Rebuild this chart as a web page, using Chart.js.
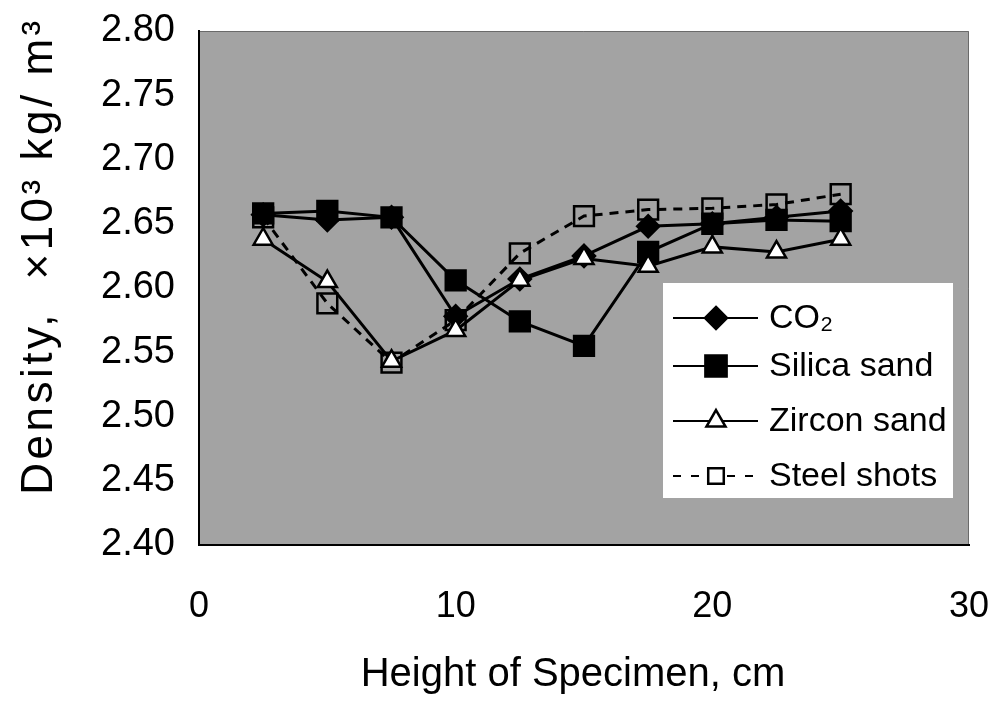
<!DOCTYPE html>
<html><head><meta charset="utf-8">
<script src="https://cdn.jsdelivr.net/npm/chart.js@4.4.0/dist/chart.umd.min.js"></script>
<style>html,body{margin:0;padding:0;background:#fff;}canvas{display:block}</style>
</head><body>
<canvas id="c" width="994" height="706"></canvas>
<script>
const heights = [2.5, 5, 7.5, 10, 12.5, 15, 17.5, 20, 22.5, 25];
const co2    = [2.657, 2.653, 2.655, 2.578, 2.607, 2.625, 2.648, 2.650, 2.655, 2.660];
const silica = [2.658, 2.660, 2.655, 2.606, 2.574, 2.555, 2.628, 2.650, 2.653, 2.652];
const zircon = [2.638, 2.605, 2.543, 2.567, 2.606, 2.623, 2.617, 2.632, 2.628, 2.638];
const steel  = [2.655, 2.588, 2.542, 2.575, 2.627, 2.656, 2.661, 2.662, 2.665, 2.673];
const seriesNames = ['CO\u2082', 'Silica sand', 'Zircon sand', 'Steel shots'];
const yTicks = [2.40, 2.45, 2.50, 2.55, 2.60, 2.65, 2.70, 2.75, 2.80];
const xTicks = [0, 10, 20, 30];
const xTitle = 'Height of Specimen, cm';
const yTitle = 'Density,  \u00d710\u00b3 kg/ m\u00b3';

const pts = arr => heights.map((h, i) => ({x: h, y: arr[i]}));

const styles = [
  {pointStyle: 'rectRot', radius: 11, bg: '#000', dash: []},
  {pointStyle: 'rect', radius: 14, bg: '#000', dash: []},
  {pointStyle: 'triangle', radius: 11, bg: '#fff', dash: []},
  {pointStyle: 'rect', radius: 14, bg: 'rgba(0,0,0,0)', dash: [9, 7]}
];
const seriesData = [co2, silica, zircon, steel];
const orders = [2, 1, 0, 3];

const datasets = seriesData.map((arr, i) => ({
  label: seriesNames[i],
  data: pts(arr),
  borderColor: '#000',
  borderWidth: 3,
  borderDash: styles[i].dash,
  pointStyle: styles[i].pointStyle,
  pointRadius: styles[i].radius,
  pointBackgroundColor: styles[i].bg,
  pointBorderColor: '#000',
  pointBorderWidth: 2.5,
  tension: 0,
  fill: false,
  order: orders[i]
}));

const FONT = '"Liberation Sans", Arial, sans-serif';

const bgPlugin = {
  id: 'bg',
  beforeDraw(chart) {
    const {ctx, chartArea: a} = chart;
    ctx.save();
    ctx.fillStyle = '#fff';
    ctx.fillRect(0, 0, chart.width, chart.height);
    ctx.fillStyle = '#a3a3a3';
    ctx.fillRect(a.left, a.top, a.right - a.left, a.bottom - a.top);
    ctx.strokeStyle = '#6a6a6a';
    ctx.lineWidth = 1;
    ctx.beginPath();
    ctx.moveTo(a.left, a.top + 0.5); ctx.lineTo(a.right - 0.5, a.top + 0.5); ctx.lineTo(a.right - 0.5, a.bottom);
    ctx.stroke();
    ctx.restore();
  }
};

function drawMarker(ctx, style, r, x, y, bg) {
  ctx.beginPath();
  if (style === 'rectRot') {
    ctx.moveTo(x, y - r); ctx.lineTo(x + r, y); ctx.lineTo(x, y + r); ctx.lineTo(x - r, y); ctx.closePath();
  } else if (style === 'rect') {
    const s = r * Math.SQRT1_2;
    ctx.rect(x - s, y - s, 2 * s, 2 * s);
  } else if (style === 'triangle') {
    const h = r * Math.sin(Math.PI / 3);
    ctx.moveTo(x, y - r); ctx.lineTo(x + h, y + r * 0.5); ctx.lineTo(x - h, y + r * 0.5); ctx.closePath();
  }
  ctx.fillStyle = bg;
  ctx.fill();
  ctx.lineWidth = 2.5;
  ctx.strokeStyle = '#000';
  ctx.setLineDash([]);
  ctx.stroke();
}

const legendPlugin = {
  id: 'boxLegend',
  afterDatasetsDraw(chart) {
    const ctx = chart.ctx;
    ctx.save();
    ctx.fillStyle = '#fff';
    ctx.fillRect(663, 283, 290, 215);
    const rows = [318, 366, 421, 476];
    seriesNames.forEach((name, i) => {
      const y = rows[i];
      ctx.strokeStyle = '#000';
      ctx.lineWidth = 2;
      ctx.setLineDash(styles[i].dash.length ? [8, 10] : []);
      ctx.beginPath();
      ctx.moveTo(673, y); ctx.lineTo(758, y);
      ctx.stroke();
      drawMarker(ctx, styles[i].pointStyle, i === 1 ? 15 : 11, 716, y, styles[i].bg === 'rgba(0,0,0,0)' ? '#fff' : styles[i].bg);
      ctx.fillStyle = '#000';
      ctx.font = '34px ' + FONT;
      ctx.textBaseline = 'middle';
      ctx.textAlign = 'left';
      ctx.fillText(name, 769, y + 1);
    });
    ctx.restore();
  }
};

const titlePlugin = {
  id: 'titles',
  afterDraw(chart) {
    const ctx = chart.ctx;
    ctx.save();
    ctx.fillStyle = '#000';
    ctx.textBaseline = 'middle';
    ctx.textAlign = 'center';
    ctx.font = '40px ' + FONT;
    ctx.fillText(xTitle, 573, 675);
    ctx.translate(40, 256);
    ctx.rotate(-Math.PI / 2);
    ctx.font = '44px ' + FONT;
    ctx.letterSpacing = '3.5px';
    ctx.fillText(yTitle, 0, 0);
    ctx.restore();
  }
};

new Chart(document.getElementById('c'), {
  type: 'line',
  data: {datasets},
  plugins: [bgPlugin, legendPlugin, titlePlugin],
  options: {
    responsive: false,
    animation: false,
    devicePixelRatio: 1,
    layout: {padding: {top: 31, right: 25, left: 0, bottom: 0}},
    plugins: {legend: {display: false}, tooltip: {enabled: false}},
    scales: {
      x: {
        type: 'linear',
        min: 0, max: 30,
        afterBuildTicks: s => { s.ticks = xTicks.map(v => ({value: v})); },
        afterFit: s => { s.height = 161; s.paddingLeft = 0; s.paddingRight = 0; },
        grid: {display: false, drawTicks: false},
        border: {display: true, color: '#000', width: 2},
        ticks: {
          color: '#000',
          padding: 40,
          font: {family: FONT, size: 36},
          callback: v => String(v)
        },
        title: {display: false}
      },
      y: {
        min: 2.40, max: 2.80,
        afterBuildTicks: s => { s.ticks = yTicks.map(v => ({value: v})); },
        afterFit: s => { s.width = 199; s.paddingTop = 0; s.paddingBottom = 0; },
        grid: {display: false, drawTicks: false},
        border: {display: true, color: '#000', width: 2},
        ticks: {
          color: '#000',
          padding: 24,
          font: {family: FONT, size: 38},
          callback: v => Number(v).toFixed(2)
        },
        title: {display: false}
      }
    }
  }
});
</script>
</body></html>
